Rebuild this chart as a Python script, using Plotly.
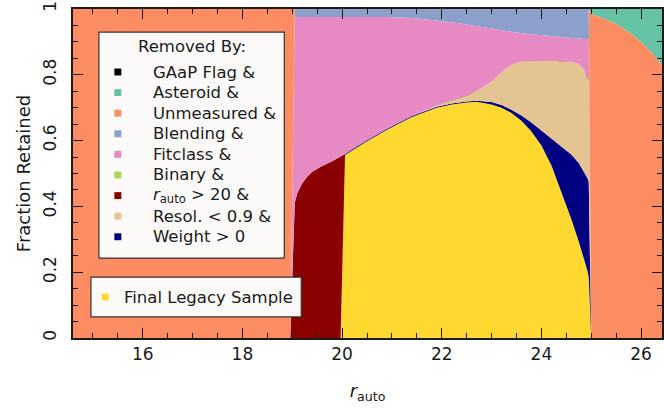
import plotly.graph_objects as go

# r_auto sample points
r_auto = [14.6, 18.96, 19.05, 19.1, 19.2, 19.3, 19.4, 19.6, 19.8, 19.97,
          20.06, 20.3, 20.5, 20.9, 21.4, 21.9, 22.2, 22.5, 22.7, 23.0,
          23.2, 23.4, 23.6, 23.8, 24.0, 24.2, 24.4, 24.6, 24.75, 24.85,
          24.92, 24.95, 25.0, 25.2, 25.5, 25.8, 26.0, 26.2, 26.42]

# Cumulative fraction retained after each cut (bottom curve = all cuts applied)
final_sample = [0, 0, 0, 0, 0, 0, 0, 0, 0, 0,
                0.556, 0.580, 0.598, 0.633, 0.672, 0.700, 0.710, 0.716, 0.718, 0.710,
                0.700, 0.684, 0.660, 0.628, 0.585, 0.525, 0.444, 0.362, 0.293, 0.246,
                0.207, 0.186, 0, 0, 0, 0, 0, 0, 0]
weight_cut = [0, 0, 0, 0, 0, 0, 0, 0, 0, 0,
              0.559, 0.583, 0.601, 0.636, 0.675, 0.703, 0.713, 0.719, 0.721, 0.717,
              0.708, 0.694, 0.676, 0.655, 0.630, 0.605, 0.582, 0.558, 0.532, 0.507,
              0.487, 0.476, 0, 0, 0, 0, 0, 0, 0]
resol_cut = [0, 0, 0, 0, 0, 0, 0, 0, 0, 0,
             0.559, 0.583, 0.601, 0.636, 0.675, 0.706, 0.722, 0.737, 0.750, 0.780,
             0.808, 0.830, 0.841, 0.843, 0.843, 0.843, 0.842, 0.840, 0.833, 0.818,
             0.795, 0.780, 0, 0, 0, 0, 0, 0, 0]
rauto_cut = [0, 0, 0.410, 0.440, 0.470, 0.490, 0.505, 0.523, 0.537, 0.550,
             0.559, 0.583, 0.601, 0.636, 0.675, 0.706, 0.722, 0.737, 0.750, 0.780,
             0.808, 0.830, 0.841, 0.843, 0.843, 0.843, 0.842, 0.840, 0.833, 0.818,
             0.795, 0.780, 0, 0, 0, 0, 0, 0, 0]
binary_cut = list(rauto_cut)
fitclass_cut = [0, 0, 0.975, 0.976, 0.976, 0.976, 0.976, 0.976, 0.976, 0.976,
                0.977, 0.977, 0.977, 0.976, 0.973, 0.966, 0.960, 0.953, 0.948, 0.940,
                0.935, 0.930, 0.926, 0.923, 0.920, 0.917, 0.914, 0.912, 0.910, 0.909,
                0.909, 0.909, 0, 0, 0, 0, 0, 0, 0]
blending_cut = [0, 0] + [1] * 30 + [0] * 7
unmeasured_cut = [1] * 32 + [0.985, 0.975, 0.955, 0.925, 0.900, 0.870, 0.830]
asteroid_cut = [1] * 39
gaap_cut = [1] * 39

# Layers from bottom to top: (legend label, upper curve, colour)
layers = [
    ("Final Legacy Sample", final_sample, "#ffd92f"),
    ("Weight &gt; 0", weight_cut, "#000080"),
    ("Resol. &lt; 0.9 &amp;", resol_cut, "#e5c494"),
    ("<i>r</i><sub>auto</sub> &gt; 20 &amp;", rauto_cut, "#8b0000"),
    ("Binary &amp;", binary_cut, "#a6d854"),
    ("Fitclass &amp;", fitclass_cut, "#e78ac3"),
    ("Blending &amp;", blending_cut, "#8da0cb"),
    ("Unmeasured &amp;", unmeasured_cut, "#fc8d62"),
    ("Asteroid &amp;", asteroid_cut, "#66c2a5"),
    ("GAaP Flag &amp;", gaap_cut, "#000000"),
]

y_ticks = [0, 0.2, 0.4, 0.6, 0.8, 1]
y_tick_labels = ["0", "0.2", "0.4", "0.6", "0.8", "1"]

FONT = "DejaVu Sans"
INK = "#1a1a1a"

fig = go.Figure()
for i, (label, top, color) in enumerate(layers):
    fig.add_trace(go.Scatter(
        x=r_auto, y=top, mode="lines", name=label,
        line=dict(width=0, color=color),
        fill="tozeroy" if i == 0 else "tonexty",
        fillcolor=color, hoverinfo="skip", showlegend=False,
    ))

# Legend boxes drawn inside the axes
shapes = [
    dict(type="rect", xref="x", yref="y", x0=15.12, x1=18.84, y0=0.243, y1=0.930,
         fillcolor="#fcfaf8", line=dict(color="#333333", width=1.2), layer="above"),
    dict(type="rect", xref="x", yref="y", x0=14.96, x1=19.18, y0=0.064, y1=0.185,
         fillcolor="#fcfaf8", line=dict(color="#333333", width=1.2), layer="above"),
]
annotations = [
    dict(x=16.98, y=0.886, xref="x", yref="y", text="Removed By:", showarrow=False,
         xanchor="center", yanchor="middle", font=dict(family=FONT, size=16.5, color=INK)),
]
removed = layers[1:][::-1]
row_top, row_step = 0.8085, 0.0626
sw, sh = 0.07, 0.0105
for k, (label, _, color) in enumerate(removed):
    yc = row_top - k * row_step
    shapes.append(dict(type="rect", xref="x", yref="y", x0=15.5 - sw, x1=15.5 + sw,
                       y0=yc - sh, y1=yc + sh, fillcolor=color, line=dict(width=0),
                       layer="above"))
    annotations.append(dict(x=16.16, y=yc, xref="x", yref="y", text=label,
                            showarrow=False, xanchor="left", yanchor="middle",
                            font=dict(family=FONT, size=16.5, color=INK)))
label0, _, color0 = layers[0]
shapes.append(dict(type="rect", xref="x", yref="y", x0=15.25 - sw, x1=15.25 + sw,
                   y0=0.1246 - sh, y1=0.1246 + sh, fillcolor=color0,
                   line=dict(width=0), layer="above"))
annotations.append(dict(x=15.58, y=0.1246, xref="x", yref="y", text=label0,
                        showarrow=False, xanchor="left", yanchor="middle",
                        font=dict(family=FONT, size=16.5, color=INK)))

axis_common = dict(
    ticks="inside", ticklen=10, tickwidth=1.3, tickcolor=INK,
    showline=True, linecolor=INK, linewidth=1.5, mirror="allticks",
    showgrid=False, zeroline=False,
    tickfont=dict(family=FONT, size=17, color=INK),
)

fig.update_layout(
    width=664, height=410,
    margin=dict(l=73, r=0, t=9, b=72),
    paper_bgcolor="white", plot_bgcolor="white",
    shapes=shapes, annotations=annotations,
    xaxis=dict(range=[14.6, 26.42], tick0=0, dtick=2,
               minor=dict(dtick=0.5, ticks="inside", ticklen=5.5, tickwidth=1.1,
                          tickcolor=INK),
               title=dict(text="<i>r</i><sub>auto</sub>",
                          font=dict(family=FONT, size=18, color=INK), standoff=21),
               **axis_common),
    yaxis=dict(range=[0, 1], tickvals=y_ticks, ticktext=y_tick_labels, tickangle=-90,
               minor=dict(dtick=0.05, ticks="inside", ticklen=5.5, tickwidth=1.1,
                          tickcolor=INK),
               ticklabelstandoff=8,
               title=dict(text="Fraction Retained",
                          font=dict(family=FONT, size=18, color=INK), standoff=5),
               **axis_common),
)

fig.write_html("out.html")
